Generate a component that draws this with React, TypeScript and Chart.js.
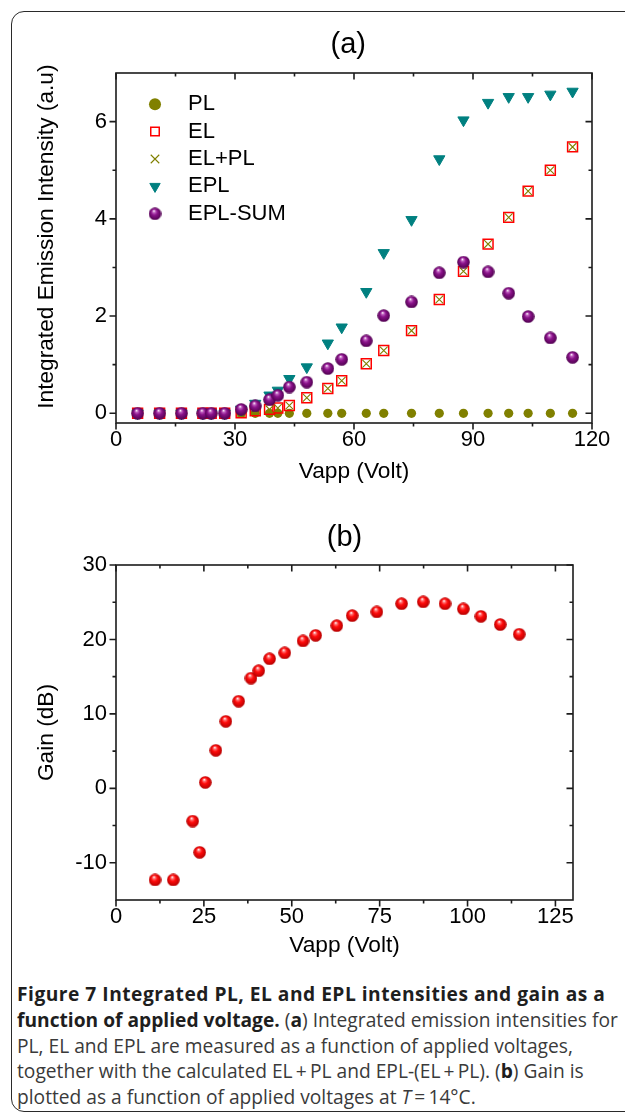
import React, { useEffect, useRef } from 'react';
import { Chart, registerables } from 'chart.js';

Chart.register(...registerables);

const FONT = "'Liberation Sans', Arial, Helvetica, sans-serif";

// ---------- Panel (a): integrated emission intensity ----------
const voltageA = [5.45, 11.0, 16.5, 21.9, 24.0, 27.4, 31.55, 35.1, 38.7, 40.8, 43.7, 48.1, 53.4, 56.9, 63.1, 67.5, 74.5, 81.5, 87.6, 93.8, 99.0, 103.9, 109.5, 115.1];
const plA = [0, 0, 0, 0, 0, 0, 0, 0, 0, 0, 0, 0, 0, 0, 0, 0, 0, 0, 0, 0, 0, 0, 0, 0];
const elA = [0, 0, 0, 0, 0, 0, 0.01, 0.05, 0.08, 0.11, 0.16, 0.32, 0.51, 0.67, 1.02, 1.29, 1.70, 2.34, 2.92, 3.48, 4.03, 4.57, 5.00, 5.48];
const elPlusPlA = [0, 0, 0, 0, 0, 0, 0.01, 0.05, 0.08, 0.11, 0.16, 0.32, 0.51, 0.67, 1.02, 1.29, 1.70, 2.34, 2.92, 3.48, 4.03, 4.57, 5.00, 5.48];
const eplA = [0, 0, 0, 0, 0, 0, 0.08, 0.20, 0.37, 0.47, 0.71, 0.95, 1.44, 1.77, 2.50, 3.30, 3.98, 5.23, 6.03, 6.39, 6.51, 6.51, 6.56, 6.62];
const eplSumA = [0, 0, 0, 0, 0, 0, 0.08, 0.15, 0.28, 0.37, 0.54, 0.64, 0.92, 1.11, 1.49, 2.01, 2.29, 2.89, 3.11, 2.91, 2.47, 1.99, 1.55, 1.15];
const seriesNamesA = ['PL', 'EL', 'EL+PL', 'EPL', 'EPL-SUM'];
const xTicksA = [0, 30, 60, 90, 120];
const xMinorA = [15, 45, 75, 105];
const yTicksA = [0, 2, 4, 6];
const yMinorA = [1, 3, 5];

// ---------- Panel (b): gain ----------
const voltageB = [11.1, 16.3, 21.8, 23.8, 25.4, 28.4, 31.25, 34.9, 38.4, 40.6, 43.7, 48.0, 53.2, 56.8, 62.8, 67.2, 74.2, 81.25, 87.4, 93.6, 98.8, 103.8, 109.3, 114.7];
const gainB = [-12.3, -12.3, -4.4, -8.6, 0.8, 5.1, 9.0, 11.7, 14.8, 15.8, 17.4, 18.2, 19.8, 20.55, 21.85, 23.2, 23.7, 24.8, 25.05, 24.8, 24.1, 23.1, 22.0, 20.7];
const xTicksB = [0, 25, 50, 75, 100, 125];
const xMinorB = [12.5, 37.5, 62.5, 87.5, 112.5];
const yTicksB = [-10, 0, 10, 20, 30];
const yMinorB = [-5, 5, 15, 25];

const pts = (xs: number[], ys: number[]) => xs.map((x, i) => ({ x, y: ys[i] }));

function makeSphere(d: number, light: string, base: string, dark: string) {
  const c = document.createElement('canvas');
  c.width = d;
  c.height = d;
  const g = c.getContext('2d')!;
  const r = d / 2;
  const grad = g.createRadialGradient(r * 0.82, r * 0.55, r * 0.04, r, r, r);
  grad.addColorStop(0, '#ffffff');
  grad.addColorStop(0.18, light);
  grad.addColorStop(0.45, base);
  grad.addColorStop(1, dark);
  g.fillStyle = grad;
  g.beginPath();
  g.arc(r, r, r - 0.2, 0, Math.PI * 2);
  g.fill();
  return c;
}

function framePlugin(xMaj: number[], xMin: number[], yMaj: number[], yMin: number[]) {
  return {
    id: 'originFrame',
    afterDraw(chart: any) {
      const { ctx, chartArea } = chart;
      const { left, right, top, bottom } = chartArea;
      const xs = chart.scales.x;
      const ys = chart.scales.y;
      ctx.save();
      ctx.strokeStyle = '#1c1c1c';
      ctx.lineWidth = 1.6;
      ctx.strokeRect(left, top, right - left, bottom - top);
      ctx.beginPath();
      const MAJ = 6.5;
      const MIN = 3.5;
      const xt = (vals: number[], len: number) => {
        vals.forEach((v) => {
          const p = xs.getPixelForValue(v);
          ctx.moveTo(p, bottom);
          ctx.lineTo(p, bottom + len);
          ctx.moveTo(p, top);
          ctx.lineTo(p, top + len);
        });
      };
      const yt = (vals: number[], len: number) => {
        vals.forEach((v) => {
          const p = ys.getPixelForValue(v);
          ctx.moveTo(left, p);
          ctx.lineTo(left - len, p);
          ctx.moveTo(right, p);
          ctx.lineTo(right - len, p);
        });
      };
      xt(xMaj, MAJ);
      xt(xMin, MIN);
      yt(yMaj, MAJ);
      yt(yMin, MIN);
      ctx.stroke();
      ctx.restore();
    },
  };
}

const legendPlace = {
  id: 'legendPlace',
  afterLayout(chart: any) {
    const lg = chart.legend;
    if (!lg) return;
    const ca = chart.chartArea;
    lg.left = ca.left + 22.6;
    lg.top = ca.top + 14.8;
    lg.right = lg.left + lg.width;
    lg.bottom = lg.top + (ca.bottom - ca.top);
  },
};

const TICK_FONT = { size: 22 };
const TITLE_FONT = { size: 22.7 };

export default function App() {
  const refA = useRef<HTMLCanvasElement>(null);
  const refB = useRef<HTMLCanvasElement>(null);

  useEffect(() => {
    Chart.defaults.font.family = FONT;
    Chart.defaults.color = '#000';
    const purple = makeSphere(13, '#c060c0', '#8a128a', '#4e004e');
    const red = makeSphere(13, '#ff7070', '#ff0a0a', '#b00000');

    const commonScale = (min: number, max: number, ticks: number[]) => ({
      type: 'linear' as const,
      min,
      max,
      afterBuildTicks: (s: any) => {
        s.ticks = ticks.map((v) => ({ value: v }));
      },
      grid: { display: false, drawTicks: false },
      border: { display: false },
    });

    const defaultLabels = (Chart.defaults as any).plugins.legend.labels.generateLabels;

    const chartA = new Chart(refA.current!, {
      type: 'scatter',
      data: {
        datasets: [
          {
            label: seriesNamesA[0],
            data: pts(voltageA, plA),
            pointStyle: 'circle',
            pointRadius: 4.6,
            pointBackgroundColor: '#808000',
            pointBorderColor: '#808000',
            pointBorderWidth: 0,
            order: 5,
          },
          {
            label: seriesNamesA[1],
            data: pts(voltageA, elA),
            pointStyle: 'rect',
            pointRadius: 7,
            pointBackgroundColor: 'rgba(255,255,255,0)',
            pointBorderColor: '#ff0000',
            pointBorderWidth: 1.5,
            order: 4,
          },
          {
            label: seriesNamesA[2],
            data: pts(voltageA, elPlusPlA),
            pointStyle: 'crossRot',
            pointRadius: 5.5,
            pointBackgroundColor: '#808000',
            pointBorderColor: '#808000',
            pointBorderWidth: 1.1,
            order: 3,
          },
          {
            label: seriesNamesA[3],
            data: pts(voltageA, eplA),
            pointStyle: 'triangle',
            pointRotation: 180,
            pointRadius: 6.5,
            pointBackgroundColor: '#008080',
            pointBorderColor: '#008080',
            pointBorderWidth: 1,
            order: 2,
          },
          {
            label: seriesNamesA[4],
            data: pts(voltageA, eplSumA),
            pointStyle: purple,
            pointRadius: 6.5,
            order: 1,
          },
        ],
      },
      options: {
        responsive: false,
        animation: false,
        events: [],
        layout: { padding: { left: 0, right: 33, top: 0, bottom: 0 } },
        plugins: {
          title: {
            display: true,
            text: '(a)\u2009\u2009',
            fullSize: false,
            color: '#000',
            font: { size: 29, weight: 'normal' },
            padding: { top: 27.5, bottom: 10.7 },
          },
          legend: {
            display: true,
            position: 'chartArea',
            align: 'start',
            labels: {
              usePointStyle: true,
              boxWidth: 22,
              boxHeight: 8.5,
              padding: 5.4,
              color: '#000',
              font: { size: 22 },
              sort: (a: any, b: any) => a.datasetIndex - b.datasetIndex,
              generateLabels: (chart: any) =>
                defaultLabels(chart).map((l: any) => ({ ...l, text: '\u2002' + l.text })),
            },
          },
          tooltip: { enabled: false },
        },
        scales: {
          x: {
            ...commonScale(0, 120, xTicksA),
            position: 'bottom',
            ticks: { color: '#000', font: TICK_FONT, padding: 4, maxRotation: 0, autoSkip: false },
            title: { display: true, text: 'Vapp (Volt)', color: '#000', font: TITLE_FONT, padding: { top: 0, bottom: 14.4 } },
            afterFit: (s: any) => {
              s.height = 77;
            },
          },
          y: {
            ...commonScale(-0.2, 7, yTicksA),
            position: 'left',
            ticks: { color: '#000', font: TICK_FONT, padding: 9 },
            title: {
              display: true,
              text: '\u2003Integrated Emission Intensity (a.u)',
              color: '#000',
              font: TITLE_FONT,
              padding: { top: 33.4, bottom: 0 },
            },
            afterFit: (s: any) => {
              s.width = 116;
            },
          },
        },
      } as any,
      plugins: [framePlugin(xTicksA, xMinorA, yTicksA, yMinorA), legendPlace],
    });

    const chartB = new Chart(refB.current!, {
      type: 'scatter',
      data: {
        datasets: [
          {
            label: 'Gain',
            data: pts(voltageB, gainB),
            pointStyle: red,
            pointRadius: 6.5,
          },
        ],
      },
      options: {
        responsive: false,
        animation: false,
        events: [],
        layout: { padding: { left: 0, right: 52, top: 0, bottom: 0 } },
        plugins: {
          title: {
            display: true,
            text: '(b)',
            fullSize: false,
            color: '#000',
            font: { size: 29, weight: 'normal' },
            padding: { top: 20.6, bottom: 9.6 },
          },
          legend: { display: false },
          tooltip: { enabled: false },
        },
        scales: {
          x: {
            ...commonScale(0, 130, xTicksB),
            position: 'bottom',
            ticks: { color: '#000', font: TICK_FONT, padding: 4, maxRotation: 0, autoSkip: false },
            title: { display: true, text: 'Vapp (Volt)', color: '#000', font: TITLE_FONT, padding: { top: 0, bottom: 10.4 } },
            afterFit: (s: any) => {
              s.height = 70;
            },
          },
          y: {
            ...commonScale(-15, 30, yTicksB),
            position: 'left',
            ticks: { color: '#000', font: TICK_FONT, padding: 9 },
            title: { display: true, text: 'Gain (dB)', color: '#000', font: TITLE_FONT, padding: { top: 33.4, bottom: 0 } },
            afterFit: (s: any) => {
              s.width = 116;
            },
          },
        },
      } as any,
      plugins: [framePlugin(xTicksB, xMinorB, yTicksB, yMinorB)],
    });

    return () => {
      chartA.destroy();
      chartB.destroy();
    };
  }, []);

  const ts = '\u2009';
  const boldLine1: React.CSSProperties = { fontWeight: 700, color: '#1e1e1e', letterSpacing: '0.5px' };
  const boldStyle: React.CSSProperties = { fontWeight: 700, color: '#1e1e1e', letterSpacing: '0px' };

  return (
    <div style={{ position: 'fixed', left: 0, top: 0, width: 625, height: 1114, overflow: 'hidden', background: '#fff' }}>
      <div
        style={{
          position: 'absolute',
          left: 11,
          top: 11,
          width: 720,
          height: 1101,
          border: '1.5px solid #2a2a2a',
          borderRadius: 13,
          boxSizing: 'border-box',
        }}
      />
      <div style={{ position: 'absolute', left: 0, top: 0, width: 625, height: 500 }}>
        <canvas ref={refA} width={625} height={500} />
      </div>
      <div style={{ position: 'absolute', left: 0, top: 500, width: 625, height: 470 }}>
        <canvas ref={refB} width={625} height={470} />
      </div>
      <div
        style={{
          position: 'absolute',
          left: 17,
          top: 981,
          fontFamily: "'Open Sans', 'Noto Sans', sans-serif",
          fontSize: 19.2,
          lineHeight: '25.75px',
          color: '#3a3a3a',
          whiteSpace: 'nowrap',
        }}
      >
        <span style={boldLine1}>Figure 7 Integrated PL, EL and EPL intensities and gain as a</span>
        <br />
        <span style={boldStyle}>function of applied voltage.</span> (<span style={boldStyle}>a</span>) Integrated emission intensities for
        <br />
        PL, EL and EPL are measured as a function of applied voltages,
        <br />
        together with the calculated EL{ts}+{ts}PL and EPL-(EL{ts}+{ts}PL). (<span style={boldStyle}>b</span>) Gain is
        <br />
        plotted as a function of applied voltages at <i>T</i>
        {ts}={ts}14°C.
      </div>
    </div>
  );
}
